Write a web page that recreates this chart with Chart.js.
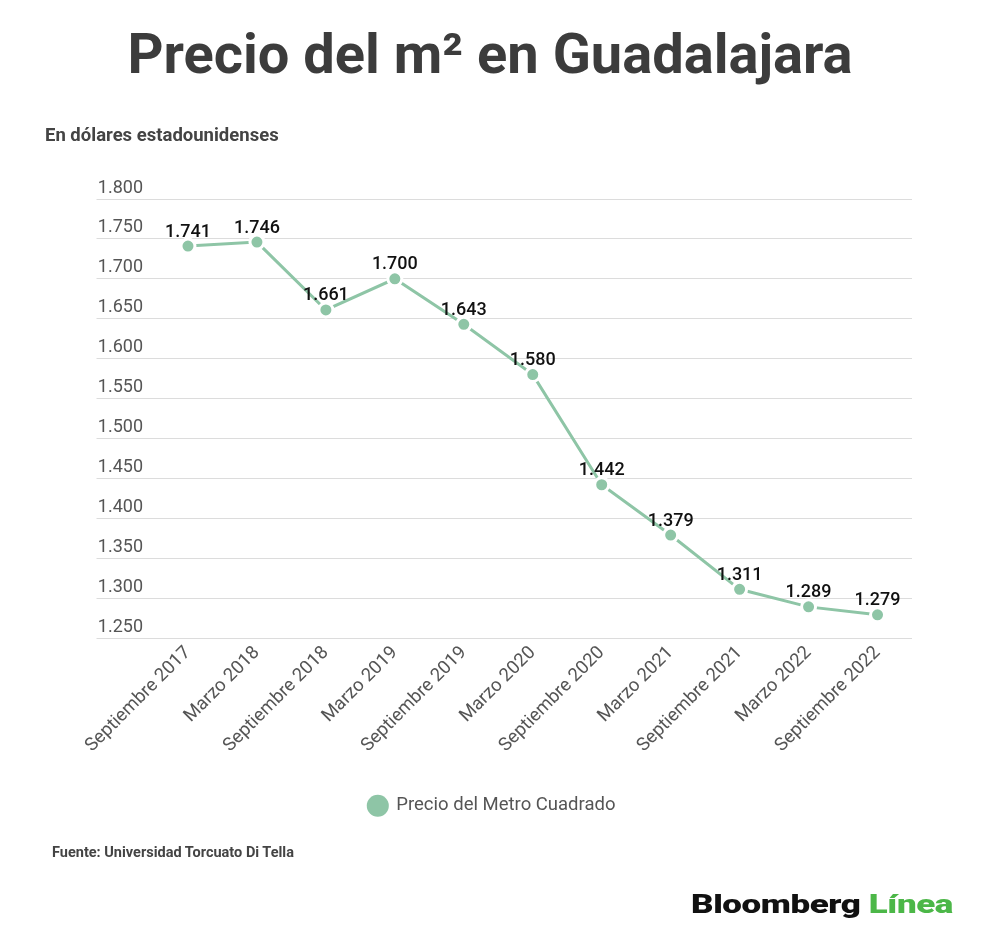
<!DOCTYPE html>
<html>
<head>
<meta charset="utf-8">
<script src="https://cdn.jsdelivr.net/npm/chart.js@4"></script>
<style>
  html, body { margin: 0; padding: 0; background: #ffffff; }
  body { width: 1000px; height: 951px; position: relative; overflow: hidden; font-family: Roboto, "Noto Sans", sans-serif; }
  #wrap { position: absolute; left: 0; top: 0; width: 1000px; height: 951px; }
  .txt { position: absolute; white-space: nowrap; line-height: 1; }
  #title { left: 0; width: 980px; top: 26px; text-align: center; font-size: 56px; font-weight: 700; color: #3c3c3c; }
  #subtitle { left: 45px; top: 126px; font-size: 18.5px; font-weight: 700; color: #444; }
  #source { left: 52px; top: 846px; font-size: 14.5px; font-weight: 700; color: #444; }
  #logo { left: 691px; top: 891px; font-size: 26px; font-weight: 900; letter-spacing: -0.3px; transform-origin: left top; }
  #logo .b { color: #111; }
  #logo .l { color: #4cb748; }
</style>
</head>
<body>
<div id="wrap"><canvas id="c" width="1000" height="951"></canvas></div>
<div class="txt" id="title">Precio del m² en Guadalajara</div>
<div class="txt" id="subtitle">En dólares estadounidenses</div>
<div class="txt" id="source">Fuente: Universidad Torcuato Di Tella</div>
<div class="txt" id="logo"><span class="b">Bloomberg</span> <span class="l">Línea</span></div>
<script>
const categories = ["Septiembre 2017", "Marzo 2018", "Septiembre 2018", "Marzo 2019", "Septiembre 2019", "Marzo 2020", "Septiembre 2020", "Marzo 2021", "Septiembre 2021", "Marzo 2022", "Septiembre 2022"];
const precioM2 = [1741, 1746, 1661, 1700, 1643, 1580, 1442, 1379, 1311, 1289, 1279];
const seriesName = "Precio del Metro Cuadrado";
const yMin = 1250, yMax = 1800, yStep = 50;

function fmt(v) {
  return String(Math.round(v)).replace(/\B(?=(\d{3})+(?!\d))/g, '.');
}

const valueLabels = {
  id: 'valueLabels',
  afterDatasetsDraw(chart) {
    const ctx = chart.ctx;
    const meta = chart.getDatasetMeta(0);
    ctx.save();
    ctx.font = '500 18px Roboto, sans-serif';
    ctx.fillStyle = '#111';
    ctx.textAlign = 'center';
    ctx.textBaseline = 'middle';
    meta.data.forEach((pt, i) => {
      ctx.fillText(fmt(chart.data.datasets[0].data[i]), pt.x, pt.y - 14);
    });
    ctx.restore();
  }
};

const green = '#8ec5a6';

new Chart(document.getElementById('c'), {
  type: 'line',
  data: {
    labels: categories,
    datasets: [{
      label: seriesName,
      data: precioM2,
      borderColor: green,
      backgroundColor: green,
      borderWidth: 3,
      pointRadius: 7,
      pointBorderWidth: 3,
      pointBorderColor: '#ffffff',
      pointBackgroundColor: green,
      pointHoverRadius: 7,
      tension: 0,
      fill: false
    }]
  },
  options: {
    responsive: false,
    animation: false,
    devicePixelRatio: 1,
    layout: { padding: { left: 72, right: 88, top: 199, bottom: 126 } },
    plugins: {
      legend: {
        position: 'bottom',
        labels: {
          usePointStyle: true,
          pointStyle: 'circle',
          boxHeight: 15.6,
          color: '#555',
          font: { family: 'Roboto', size: 18.5 },
          padding: 10,
          generateLabels(chart) {
            const items = Chart.defaults.plugins.legend.labels.generateLabels(chart);
            items.forEach(it => { it.lineWidth = 0; it.strokeStyle = 'rgba(0,0,0,0)'; it.fillStyle = green; });
            return items;
          }
        }
      },
      title: { display: false },
      tooltip: { enabled: false }
    },
    scales: {
      x: {
        offset: true,
        grid: { display: false, drawTicks: false },
        border: { display: false },
        ticks: {
          color: '#555',
          font: { family: 'Roboto', size: 18.5 },
          maxRotation: 45,
          minRotation: 45,
          padding: 4,
          autoSkip: false
        },
        afterFit(scale) { scale.height = 148.5; }
      },
      y: {
        min: yMin,
        max: yMax,
        border: { display: false },
        grid: { color: '#dcdcdc', lineWidth: 1, drawTicks: true, tickLength: 57, tickColor: '#dcdcdc' },
        ticks: {
          stepSize: yStep,
          color: '#555',
          font: { family: 'Roboto', size: 18 },
          crossAlign: 'near',
          padding: -46.5,
          labelOffset: -11,
          callback: (v) => fmt(v)
        },
        afterFit(scale) { scale.width = 81.5; }
      }
    }
  },
  plugins: [valueLabels]
});

// fit logo width
const logo = document.getElementById('logo');
const w = logo.getBoundingClientRect().width;
logo.style.transform = 'scaleX(' + (262 / w) + ')';
</script>
</body>
</html>
